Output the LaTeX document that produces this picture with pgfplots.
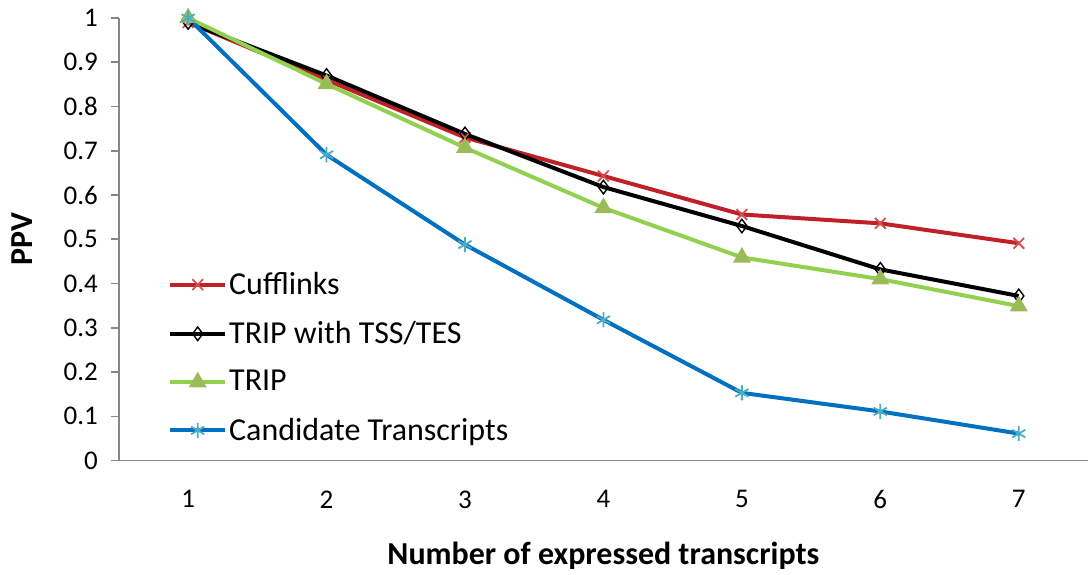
\documentclass[border=0pt]{standalone}
\usepackage{fontspec}
\setmainfont{Carlito}
\usepackage{pgfplots}
\pgfplotsset{compat=1.18}
\definecolor{cuffline}{RGB}{192,32,40}
\definecolor{cuffmark}{RGB}{210,80,80}
\definecolor{tripline}{RGB}{146,208,80}
\definecolor{tripmark}{RGB}{155,187,89}
\definecolor{candline}{RGB}{0,112,192}
\definecolor{candmark}{RGB}{75,172,198}
\definecolor{axgray}{RGB}{134,134,134}
\begin{document}
\begin{tikzpicture}
\useasboundingbox (-59.5pt,-57pt) rectangle (485pt,230.5pt);
\begin{axis}[
  at={(0pt,0pt)}, anchor=south west,
  scale only axis,
  width=485pt, height=221.5pt,
  xmin=0.5, xmax=7.5, ymin=0, ymax=1,
  axis x line=bottom, axis y line=left,
  axis line style={draw=axgray, line width=0.8pt, -},
  xtick={1,2,3,4,5,6,7},
  major x tick style={draw=none},
  extra x ticks={0.5,1.5,2.5,3.5,4.5,5.5,6.5,7.5},
  extra x tick labels={},
  extra x tick style={tick style={draw=axgray, line width=0.8pt}, major tick length=5pt},
  ytick={0,0.1,0.2,0.3,0.4,0.5,0.6,0.7,0.8,0.9,1},
  tick align=outside,
  major tick length=4pt,
  y tick style={draw=axgray, line width=0.8pt},
  /pgf/number format/assume math mode=true,
  /pgf/number format/fixed,
  yticklabel style={font=\fontsize{13.5}{16}\selectfont, xshift=-3pt},
  xticklabel style={font=\fontsize{13.5}{16}\selectfont, yshift=-7.5pt},
  xlabel={\textbf{Number of expressed transcripts}},
  ylabel={\textbf{PPV}},
  xlabel style={font=\fontsize{16}{19}\selectfont, at={(rel axis cs:0.5,0)}, anchor=center, yshift=-47.5pt},
  ylabel style={font=\fontsize{16}{19}\selectfont, at={([xshift=-48.5pt]rel axis cs:0,0.5)}, anchor=center},
  clip=false,
  legend cell align=left,
  legend style={draw=none, fill=none, at={(rel axis cs:0.0505,0.436)}, anchor=north west,
    font=\fontsize{16}{19}\selectfont, inner xsep=0pt, inner ysep=0pt, row sep=8pt,
    nodes={inner xsep=1pt}},
  legend image code/.code={\draw[mark repeat=2,mark phase=2] plot coordinates {(0pt,0pt)(13.75pt,0pt)(27.5pt,0pt)};},
]
\addplot[cuffline, line width=2pt, mark=x, mark size=3.8pt, mark options={solid, draw=cuffmark, line width=0.9pt}]
  coordinates {(1,0.99)(2,0.86)(3,0.73)(4,0.643)(5,0.556)(6,0.536)(7,0.491)};
\addlegendentry{Cufflinks}
\addplot[black, line width=2pt, mark=diamond, mark size=3.4pt, mark options={solid, draw=black, fill opacity=0, line width=0.7pt}]
  coordinates {(1,0.99)(2,0.87)(3,0.738)(4,0.618)(5,0.53)(6,0.432)(7,0.372)};
\addlegendentry{TRIP with TSS/TES}
\addplot[tripline, line width=2pt, mark=triangle*, mark size=3.2pt, mark options={solid, draw=tripmark, fill=tripmark}]
  coordinates {(1,1.0)(2,0.851)(3,0.707)(4,0.571)(5,0.459)(6,0.41)(7,0.349)};
\addlegendentry{TRIP}
\addplot[candline, line width=2pt, mark=asterisk, mark size=3.8pt, mark options={solid, draw=candmark, line width=0.9pt}]
  coordinates {(1,1.0)(2,0.691)(3,0.488)(4,0.318)(5,0.153)(6,0.111)(7,0.061)};
\addlegendentry{Candidate Transcripts}
\end{axis}
\end{tikzpicture}
\end{document}
